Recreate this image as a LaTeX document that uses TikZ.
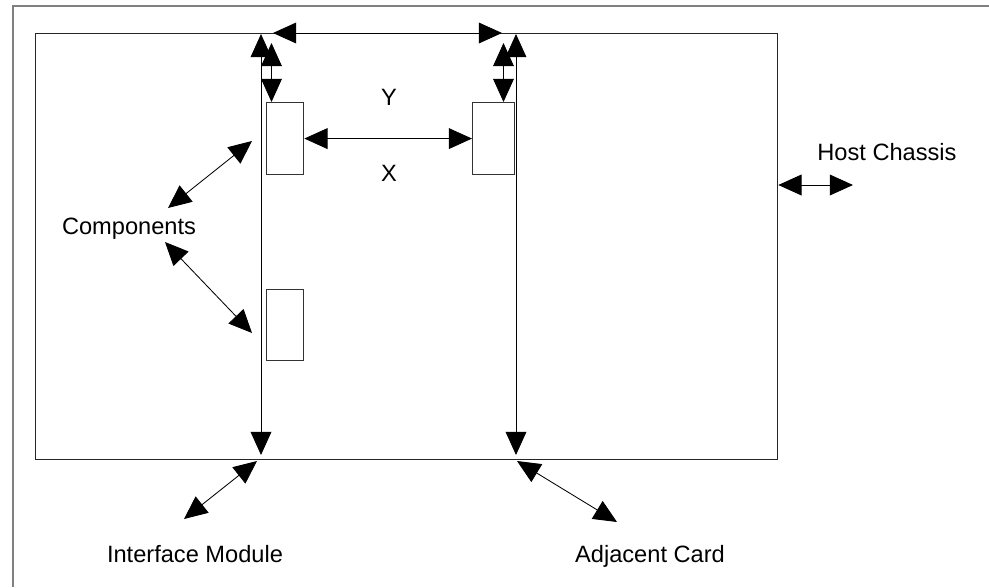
\documentclass[tikz,border=0pt]{standalone}
\usepackage{fontspec}
\setmainfont{Liberation Sans}
\usepackage{tikz}
\usetikzlibrary{arrows.meta, positioning, calc}

\begin{document}
\begin{tikzpicture}[
        x=0.025cm, y=-0.025cm,
        conn/.style={line width=0.6pt, {Triangle[length=0.58cm, width=0.52cm]}-{Triangle[length=0.58cm, width=0.52cm]}},
        comp/.style={draw=black!80, line width=0.8pt, minimum width=0.93cm, minimum height=1.8cm, inner sep=0pt, anchor=north west},
        lbl/.style={font=\fontsize{16.8}{20}\selectfont, inner sep=0pt, anchor=base}
    ]
    \useasboundingbox (0,0) rectangle (989,587);

    % Page frame
    \draw[gray, line width=1.5pt] (13,587) -- (13,6) -- (989,6);

    % Host card
    \node[draw=black!85, line width=0.8pt, minimum width=18.55cm, minimum height=10.65cm, inner sep=0pt, anchor=north west] (card) at (35,33) {};

    % Components
    \node[comp] (compA) at (266,102) {};
    \node[comp, minimum width=1.05cm] (compB) at (472,102) {};
    \node[comp, minimum height=1.78cm] (compC) at (266,289) {};

    % Labels
    \node[lbl] (ylbl) at (389,105) {Y};
    \node[lbl] (xlbl) at (389,181.5) {X};
    \node[lbl] (complbl) at (129,234.5) {Components};
    \node[lbl] (hostlbl) at (887,160.5) {Host Chassis};
    \node[lbl] (iflbl) at (195,562) {Interface Module};
    \node[lbl] (adjlbl) at (650,562) {Adjacent Card};

    % Arrow end points
    \coordinate (lt) at (261,34);   \coordinate (lb) at (261,455);
    \coordinate (rt) at (516,34);   \coordinate (rb) at (516,455);
    \coordinate (tl) at (273,33);   \coordinate (tr) at (502,33);
    \coordinate (sl) at (271.5,43); \coordinate (sr) at (503.5,43);
    \coordinate (ca) at (168,208);  \coordinate (ca2) at (252,141);
    \coordinate (cb) at (165,242);  \coordinate (cb2) at (252,333);
    \coordinate (hc) at (853,185);
    \coordinate (ia) at (257,461);  \coordinate (ib) at (184,519);
    \coordinate (aa) at (517,461);  \coordinate (ab) at (617,522);

    % Slot rails
    \draw[conn] (lt) -- (lb);
    \draw[conn] (rt) -- (rb);
    \draw[conn] (tl) -- (tr);

    % Clearances
    \draw[conn] (sl) -- (sl |- compA.north);
    \draw[conn] (sr) -- (sr |- compB.north);
    \draw[conn] (compA.east) -- (compB.west);

    % Pointers
    \draw[conn] (ca) -- (ca2);
    \draw[conn] (cb) -- (cb2);
    \draw[conn] (card.east |- hc) -- (hc);
    \draw[conn] (ia) -- (ib);
    \draw[conn] (aa) -- (ab);
\end{tikzpicture}
\end{document}
